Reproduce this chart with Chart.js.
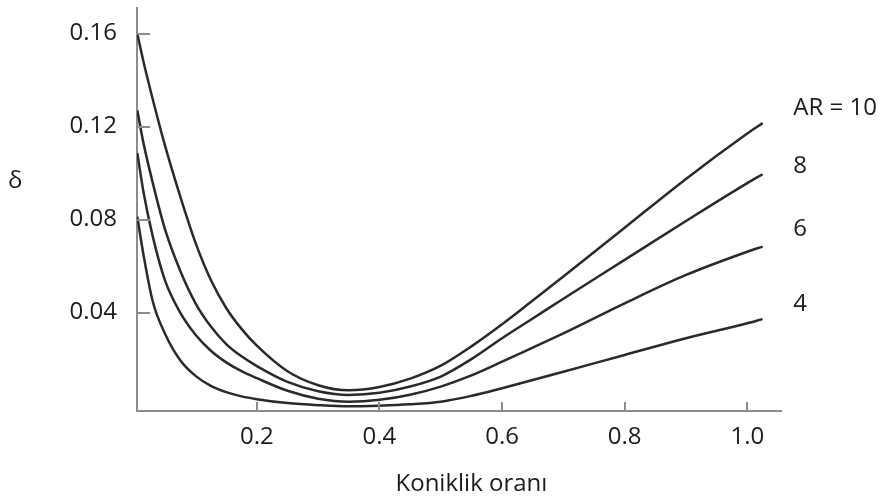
<!DOCTYPE html>
<html lang="tr">
<head>
<meta charset="utf-8">
<title>δ – Koniklik oranı</title>
<script src="https://cdn.jsdelivr.net/npm/chart.js@4.4.1/dist/chart.umd.min.js"></script>
<style>
  html, body { margin: 0; padding: 0; background: #fff; }
  #wrap { width: 882px; height: 500px; position: relative; }
</style>
</head>
<body>
<div id="wrap"><canvas id="deltaChart"></canvas></div>
<script>
// taper ratio samples, shared by every curve
const taperRatio = [0.005, 0.015, 0.03, 0.05, 0.075, 0.1, 0.125, 0.15, 0.175, 0.2, 0.25, 0.3, 0.35, 0.4, 0.45, 0.5, 0.55, 0.6, 0.65, 0.7, 0.8, 0.9, 1.0, 1.025];

// delta, one array per aspect ratio
const deltaAR10 = [0.160, 0.148, 0.132, 0.112, 0.090, 0.070, 0.054, 0.042, 0.033, 0.0258, 0.0148, 0.0088, 0.0066, 0.0080, 0.0116, 0.0172, 0.0255, 0.0350, 0.0452, 0.0555, 0.0765, 0.0975, 0.117, 0.1215];
const deltaAR8  = [0.127, 0.113, 0.096, 0.076, 0.058, 0.044, 0.034, 0.0265, 0.0212, 0.0170, 0.0102, 0.0062, 0.0046, 0.0055, 0.0082, 0.0125, 0.0200, 0.0290, 0.0375, 0.046, 0.0627, 0.0794, 0.0957, 0.0995];
const deltaAR6  = [0.1087, 0.092, 0.073, 0.054, 0.040, 0.0305, 0.0236, 0.0186, 0.0148, 0.0118, 0.0064, 0.0030, 0.0017, 0.0025, 0.0047, 0.0082, 0.0130, 0.0189, 0.0250, 0.0311, 0.044, 0.0562, 0.0662, 0.0684];
const deltaAR4  = [0.0813, 0.065, 0.045, 0.031, 0.0195, 0.0128, 0.0085, 0.0058, 0.0040, 0.0028, 0.0011, 0.0002, -0.0003, 0.0, 0.0006, 0.0017, 0.0042, 0.0075, 0.0110, 0.0146, 0.0218, 0.029, 0.0354, 0.0372];

const seriesNames = ["AR = 10", "8", "6", "4"];
const nameLevels  = [0.128, 0.103, 0.0757, 0.0437]; // delta level each name sits at
const nameAt      = 1.075;                          // taper ratio where names start

const xTicks = [0.2, 0.4, 0.6, 0.8, 1.0];
const yTicks = [0.04, 0.08, 0.12, 0.16];

const axisColor = "#8c8c8c";
const lineColor = "#2a2a2a";
const textColor = "#1c1c1c";
const font = { family: "'Open Sans', sans-serif", size: 24 };

function toPoints(ys) {
  return ys.map((v, i) => ({ x: taperRatio[i], y: v }));
}

// inward tick marks, curve names, δ and the axis title
const decorations = {
  id: "decorations",
  afterDraw(chart) {
    const { ctx, chartArea: a, scales: { x, y } } = chart;
    ctx.save();
    ctx.strokeStyle = axisColor;
    ctx.lineWidth = 2;
    ctx.beginPath();
    yTicks.forEach(v => {
      const py = Math.round(y.getPixelForValue(v));
      ctx.moveTo(a.left, py);
      ctx.lineTo(a.left + 13, py);
    });
    xTicks.forEach(v => {
      const px = Math.round(x.getPixelForValue(v));
      ctx.moveTo(px, a.bottom);
      ctx.lineTo(px, a.bottom - 9);
    });
    ctx.stroke();

    ctx.fillStyle = textColor;
    ctx.font = `${font.size}px ${font.family}`;
    ctx.textAlign = "left";
    ctx.textBaseline = "middle";
    seriesNames.forEach((n, i) => {
      ctx.fillText(n, x.getPixelForValue(nameAt), y.getPixelForValue(nameLevels[i]));
    });
    ctx.fillText("δ", 8, y.getPixelForValue(0.0966));

    ctx.textAlign = "center";
    ctx.fillText("Koniklik oranı", x.getPixelForValue(0.55), 484);
    ctx.restore();
  }
};

const datasets = [deltaAR10, deltaAR8, deltaAR6, deltaAR4].map((d, i) => ({
  label: seriesNames[i],
  data: toPoints(d),
  borderColor: lineColor,
  borderWidth: 2.5,
  pointRadius: 0,
  cubicInterpolationMode: "monotone",
  fill: false
}));

new Chart(document.getElementById("deltaChart"), {
  type: "line",
  data: { datasets },
  options: {
    responsive: true,
    maintainAspectRatio: false,
    animation: false,
    layout: { padding: { top: 8, right: 101, left: 0, bottom: 0 } },
    plugins: { legend: { display: false }, tooltip: { enabled: false } },
    scales: {
      x: {
        type: "linear",
        min: 0.0045,
        max: 1.055,
        afterBuildTicks: s => { s.ticks = xTicks.map(v => ({ value: v })); },
        afterFit: s => { s.height = 89; s.paddingLeft = 0; s.paddingRight = 0; },
        grid: { display: false, drawTicks: false },
        border: { display: true, color: axisColor, width: 2 },
        ticks: {
          padding: 12,
          color: textColor,
          font,
          maxRotation: 0,
          callback: v => v.toFixed(1)
        }
      },
      y: {
        type: "linear",
        min: -0.0023,
        max: 0.171,
        afterBuildTicks: s => { s.ticks = yTicks.map(v => ({ value: v })); },
        afterFit: s => { s.width = 137; s.paddingTop = 0; s.paddingBottom = 0; },
        grid: { display: false, drawTicks: false },
        border: { display: true, color: axisColor, width: 2 },
        ticks: {
          padding: 20,
          color: textColor,
          font,
          callback: v => v.toFixed(2)
        }
      }
    }
  },
  plugins: [decorations]
});
</script>
</body>
</html>
